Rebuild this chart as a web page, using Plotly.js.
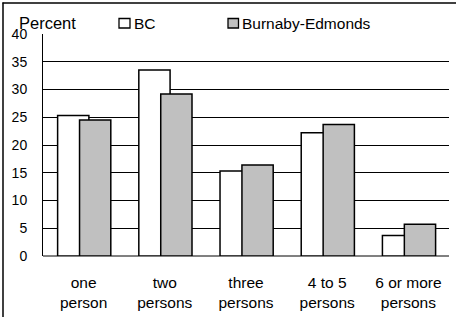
<!DOCTYPE html>
<html>
<head>
<meta charset="utf-8">
<script src="https://cdn.plot.ly/plotly-3.0.1.min.js"></script>
<style>html,body{margin:0;padding:0;background:#fff;}#chart{width:456px;height:317px;}</style>
</head>
<body>
<div id="chart"></div>
<script>
var categories = ["one<br>person", "two<br>persons", "three<br>persons", "4 to 5<br>persons", "6 or more<br>persons"];
var bcValues = [25.3, 33.5, 15.3, 22.2, 3.7];
var burnabyValues = [24.5, 29.2, 16.4, 23.7, 5.7];
var seriesNames = ["BC", "Burnaby-Edmonds"];
var yTicks = [0, 5, 10, 15, 20, 25, 30, 35, 40];

var FONT = "Liberation Sans, Arial, sans-serif";
var L = 43, R = 7, T = 34, B = 61, W = 456, H = 317;
var PW = W - L - R, PH = H - T - B;
function px(x) { return (x - L) / PW; }
function py(y) { return (H - B - y) / PH; }

var traces = [
  {type: "bar", x: categories, y: bcValues, name: seriesNames[0],
   width: 0.385, offset: -0.32,
   marker: {color: "#ffffff", line: {color: "#000000", width: 1.5}}},
  {type: "bar", x: categories, y: burnabyValues, name: seriesNames[1],
   width: 0.385, offset: -0.05,
   marker: {color: "#c0c0c0", line: {color: "#000000", width: 1.5}}}
];

var layout = {
  width: W, height: H,
  margin: {l: L, r: R, t: T, b: B, pad: 0},
  paper_bgcolor: "#ffffff", plot_bgcolor: "#ffffff",
  barmode: "overlay",
  showlegend: false,
  hovermode: false,
  font: {family: FONT, color: "#000000", size: 14},
  xaxis: {
    type: "category", range: [-0.5, 4.5],
    showgrid: false, showline: false, zeroline: false,
    ticks: "", tickfont: {family: FONT, size: 15.5, color: "#000"},
    ticklabelstandoff: 15
  },
  yaxis: {
    range: [0, 40], tickvals: yTicks, ticktext: yTicks.map(String),
    showgrid: true, gridcolor: "#000000", gridwidth: 1,
    zeroline: true, zerolinecolor: "#808080", zerolinewidth: 2,
    showline: true, linecolor: "#000000", linewidth: 1,
    ticks: "", tickfont: {family: FONT, size: 14, color: "#000"},
    ticklabelstandoff: 12
  },
  shapes: [
    {type: "rect", xref: "paper", yref: "paper", layer: "above",
     x0: px(82), x1: px(408), y0: py(40), y1: py(13),
     fillcolor: "#ffffff", line: {width: 0}},
    {type: "rect", xref: "paper", yref: "paper", layer: "above",
     x0: px(119), x1: px(130), y0: py(28), y1: py(18.5),
     fillcolor: "#ffffff", line: {color: "#000000", width: 1.3}},
    {type: "rect", xref: "paper", yref: "paper", layer: "above",
     x0: px(228), x1: px(238.5), y0: py(28), y1: py(18.5),
     fillcolor: "#c0c0c0", line: {color: "#000000", width: 1.3}},
    {type: "line", xref: "paper", yref: "paper", layer: "above",
     x0: px(3), x1: px(3), y0: py(2.5), y1: py(320),
     line: {color: "#000000", width: 1.5}},
    {type: "line", xref: "paper", yref: "paper", layer: "above",
     x0: px(2.5), x1: px(460), y0: py(3), y1: py(3),
     line: {color: "#000000", width: 1.5}}
  ],
  annotations: [
    {xref: "paper", yref: "paper", x: px(17), y: py(23), xanchor: "left", yanchor: "middle",
     text: "Percent", showarrow: false, font: {family: FONT, size: 16.5, color: "#000"}},
    {xref: "paper", yref: "paper", x: px(132), y: py(23.5), xanchor: "left", yanchor: "middle",
     text: seriesNames[0], showarrow: false, font: {family: FONT, size: 15.5, color: "#000"}},
    {xref: "paper", yref: "paper", x: px(240), y: py(23.5), xanchor: "left", yanchor: "middle",
     text: seriesNames[1], showarrow: false, font: {family: FONT, size: 15.5, color: "#000"}}
  ]
};

Plotly.newPlot("chart", traces, layout, {displayModeBar: false, staticPlot: true});
</script>
</body>
</html>
